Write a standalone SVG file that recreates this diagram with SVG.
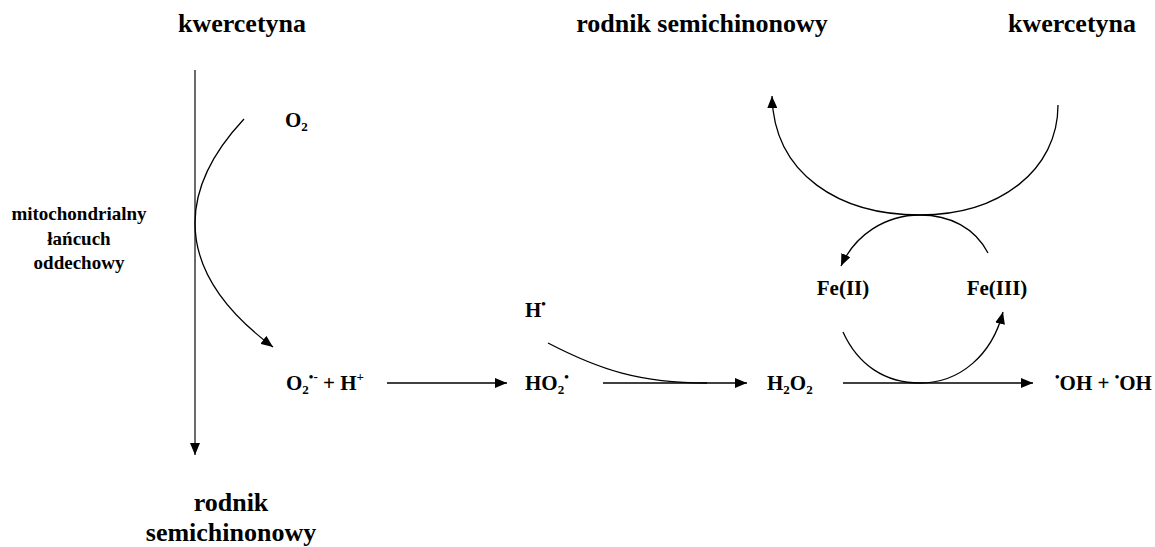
<svg xmlns="http://www.w3.org/2000/svg" width="1155" height="547" viewBox="0 0 1155 547">
<style>
text{font-family:"Liberation Serif","Times New Roman",serif;font-weight:bold;fill:#000}
.t{font-size:26px}
.l{font-size:21px}
.m{font-size:19px}
.c{fill:none;stroke:#000;stroke-width:1.3}
.v{fill:none;stroke:#3a3a3a;stroke-width:1.5}
</style>
<defs>
<marker id="ah" markerUnits="userSpaceOnUse" viewBox="0 0 12 10" refX="12" refY="5" markerWidth="12" markerHeight="10" orient="auto">
<path d="M0,0 L12,5 L0,10 z" fill="#000"/>
</marker>
</defs>
<rect width="1155" height="547" fill="#fff"/>
<g id="connectors">
<path class="v" d="M195 70 L195 455" marker-end="url(#ah)"/>
<path class="c" d="M244 119 C215 150 195 185 195 223 C195 275 230 315 273 347" marker-end="url(#ah)"/>
<path class="c" d="M387 383 L507 383" marker-end="url(#ah)"/>
<path class="c" d="M603 383 L747 383" marker-end="url(#ah)"/>
<path class="c" d="M843 383 L1033 383" marker-end="url(#ah)"/>
<path class="c" d="M548 343 C600 370 640 383 707 383"/>
<path class="c" d="M1058 105 C1058 170 1000 215 920 215 C840 215 774 175 772 96" marker-end="url(#ah)"/>
<path class="c" d="M988 253 C975 228 950 215 920 215 C885 215 855 235 841 266" marker-end="url(#ah)"/>
<path class="c" d="M843 332 C858 365 885 383 920 383 C960 383 992 355 1003 312" marker-end="url(#ah)"/>
</g>
<g id="kwercetyna-left"><text class="t" x="242" y="32" text-anchor="middle">kwercetyna</text></g>
<g id="rodnik-top"><text class="t" x="702" y="32" text-anchor="middle">rodnik semichinonowy</text></g>
<g id="kwercetyna-right"><text class="t" x="1072" y="32" text-anchor="middle">kwercetyna</text></g>
<g id="o2"><text class="l" x="285" y="127">O<tspan font-size="13" dy="4">2</tspan></text></g>
<g id="mito">
<text class="m" x="79" y="220" text-anchor="middle">mitochondrialny</text>
<text class="m" x="79" y="245" text-anchor="middle">łańcuch</text>
<text class="m" x="79" y="269" text-anchor="middle">oddechowy</text>
</g>
<g id="rodnik-bottom">
<text class="t" x="231" y="511" text-anchor="middle">rodnik</text>
<text class="t" x="231" y="541" text-anchor="middle">semichinonowy</text>
</g>
<g id="superoxide"><text class="l" x="286" y="390">O<tspan font-size="13" dy="4">2</tspan><tspan font-size="13" dy="-13">•-</tspan><tspan dy="9"> + H</tspan><tspan font-size="13" dy="-9">+</tspan></text></g>
<g id="ho2"><text class="l" x="525" y="390">HO<tspan font-size="13" dy="4">2</tspan><tspan font-size="13" dy="-13">•</tspan></text></g>
<g id="h-radical"><text class="l" x="525" y="317">H<tspan font-size="13" dy="-9">•</tspan></text></g>
<g id="h2o2"><text class="l" x="767" y="390">H<tspan font-size="13" dy="4">2</tspan><tspan dy="-4">O</tspan><tspan font-size="13" dy="4">2</tspan></text></g>
<g id="oh"><text class="l" x="1055" y="390"><tspan font-size="13" dy="-9">•</tspan><tspan dy="9">OH + </tspan><tspan font-size="13" dy="-9">•</tspan><tspan dy="9">OH</tspan></text></g>
<g id="fe2"><text class="l" x="843" y="295" text-anchor="middle">Fe(II)</text></g>
<g id="fe3"><text class="l" x="997" y="295" text-anchor="middle">Fe(III)</text></g>
</svg>
